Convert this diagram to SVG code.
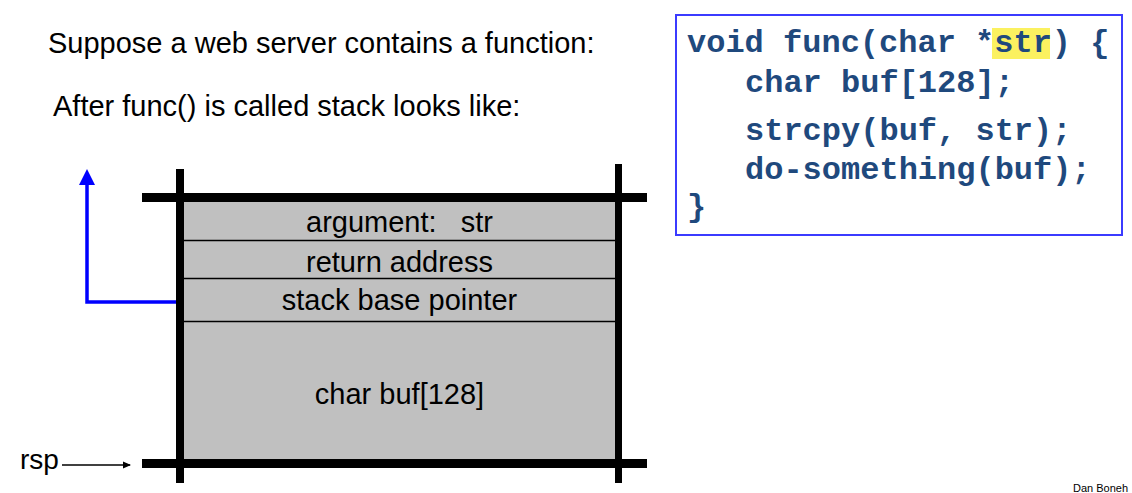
<svg xmlns="http://www.w3.org/2000/svg" width="1132" height="493" viewBox="0 0 1132 493">
<style>
.t{font-family:"Liberation Sans",Arial,sans-serif;font-size:29px;fill:#000}
.c{font-family:"Liberation Mono","Courier New",monospace;font-size:32px;font-weight:bold;fill:#1f497d}
.bar{fill:#000}
.sep{stroke:#000;stroke-width:1.5}
</style>
<defs>
<marker id="ab" markerWidth="8" markerHeight="8" refX="7" refY="4" orient="auto" markerUnits="userSpaceOnUse">
<path d="M0,0.5 L8,4 L0,7.5 Z" fill="#000"/>
</marker>
</defs>
<rect width="1132" height="493" fill="#fff"/>
<g id="heading">
<text class="t" x="48" y="53">Suppose a web server contains a function:</text>
<text class="t" x="53" y="116">After func() is called stack looks like:</text>
</g>
<g id="code">
<rect x="676" y="15" width="446" height="220" fill="#fff" stroke="#3b3bff" stroke-width="2"/>
<rect x="992" y="28" width="58" height="31" fill="#fbf160"/>
<text class="c" x="687" y="52" xml:space="preserve">void func(char *str) {</text>
<text class="c" x="745" y="92">char buf[128];</text>
<text class="c" x="745" y="140">strcpy(buf, str);</text>
<text class="c" x="745" y="179">do-something(buf);</text>
<text class="c" x="687" y="216">}</text>
</g>
<g id="stack">
<rect x="184" y="202" width="431" height="257" fill="#c0c0c0"/>
<line class="sep" x1="184" y1="240.5" x2="615" y2="240.5"/>
<line class="sep" x1="184" y1="278.5" x2="615" y2="278.5"/>
<line class="sep" x1="184" y1="321.5" x2="615" y2="321.5"/>
<rect class="bar" x="142" y="193" width="505" height="9"/>
<rect class="bar" x="142" y="459" width="505" height="9"/>
<rect class="bar" x="176" y="169" width="8" height="314"/>
<rect class="bar" x="615" y="164" width="7" height="319"/>
</g>
<g id="slot-arg"><text class="t" x="399.5" y="232" text-anchor="middle" xml:space="preserve">argument:   str</text></g>
<g id="slot-ret"><text class="t" x="399.5" y="272" text-anchor="middle">return address</text></g>
<g id="slot-sbp"><text class="t" x="399.5" y="310" text-anchor="middle">stack base pointer</text></g>
<g id="slot-buf"><text class="t" x="399.5" y="404" text-anchor="middle">char buf[128]</text></g>
<g id="rsp"><text class="t" x="20" y="469" style="font-size:28px">rsp</text></g>
<g id="connectors">
<polyline points="176,302 87,302 87,183" fill="none" stroke="#0000ff" stroke-width="3.5"/>
<path d="M79,185 L87,169 L95,185 Z" fill="#0000ff"/>
<line x1="62" y1="465" x2="130" y2="465" stroke="#000" stroke-width="1.3" marker-end="url(#ab)"/>
</g>
<text x="1073" y="492" style="font-family:'Liberation Sans',Arial,sans-serif;font-size:11px" fill="#000">Dan Boneh</text>
</svg>
